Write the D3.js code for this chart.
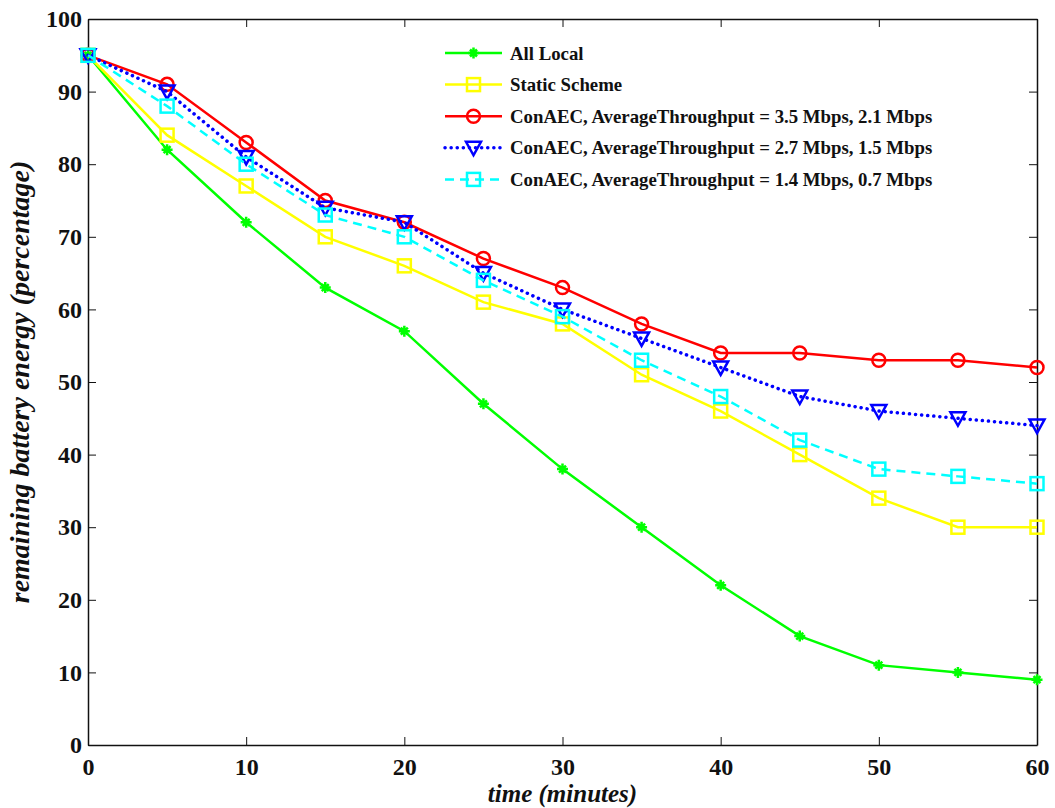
<!DOCTYPE html>
<html>
<head>
<meta charset="utf-8">
<script src="https://cdn.jsdelivr.net/npm/d3@7"></script>
<style>
  body { margin: 0; background: #fff; }
  text { font-family: "Liberation Serif", "DejaVu Serif", serif; font-weight: bold; fill: #111; }
</style>
</head>
<body>
<svg id="chart" width="1055" height="808"></svg>
<script>
const minutes = [0, 5, 10, 15, 20, 25, 30, 35, 40, 45, 50, 55, 60];
const allLocal = [95, 82, 72, 63, 57, 47, 38, 30, 22, 15, 11, 10, 9];
const staticScheme = [95, 84, 77, 70, 66, 61, 58, 51, 46, 40, 34, 30, 30];
const conAEC35 = [95, 91, 83, 75, 72, 67, 63, 58, 54, 54, 53, 53, 52];
const conAEC27 = [95, 90, 81, 74, 72, 65, 60, 56, 52, 48, 46, 45, 44];
const conAEC14 = [95, 88, 80, 73, 70, 64, 59, 53, 48, 42, 38, 37, 36];
const xTicks = [0, 10, 20, 30, 40, 50, 60];
const yTicks = [0, 10, 20, 30, 40, 50, 60, 70, 80, 90, 100];

const series = [
    { name: "All Local", values: allLocal, color: "#00ff00", marker: "star", dash: null },
    { name: "Static Scheme", values: staticScheme, color: "#ffff00", marker: "square", dash: null },
    { name: "ConAEC, AverageThroughput = 3.5 Mbps, 2.1 Mbps", values: conAEC35, color: "#ff0000", marker: "circle", dash: null },
    { name: "ConAEC, AverageThroughput = 2.7 Mbps, 1.5 Mbps", values: conAEC27, color: "#0000ff", marker: "triangle", dash: "0.1,6" },
    { name: "ConAEC, AverageThroughput = 1.4 Mbps, 0.7 Mbps", values: conAEC14, color: "#00ffff", marker: "square", dash: "9,6" }
];

const margin = { left: 88, right: 18, top: 19, bottom: 63 };
const width = 1055, height = 808;

const svg = d3.select("#chart");

const x = d3.scaleLinear().domain([0, 60]).range([margin.left, width - margin.right]);
const y = d3.scaleLinear().domain([0, 100]).range([height - margin.bottom, margin.top]);

// Axes with inward ticks
const tickLen = 8;
svg.append("g")
    .attr("transform", `translate(0,${y(0)})`)
    .call(d3.axisBottom(x).tickValues(xTicks).tickSizeInner(-tickLen).tickSizeOuter(0).tickPadding(8))
    .call(g => g.selectAll("text").attr("dy", "0.9em"));

svg.append("g")
    .attr("transform", `translate(${x(0)},0)`)
    .call(d3.axisLeft(y).tickValues(yTicks).tickSizeInner(-tickLen).tickSizeOuter(0).tickPadding(6));

svg.append("g")
    .attr("transform", `translate(0,${y(100)})`)
    .call(d3.axisTop(x).tickValues(xTicks).tickSizeInner(-tickLen).tickSizeOuter(0).tickFormat(""));

svg.append("g")
    .attr("transform", `translate(${x(60)},0)`)
    .call(d3.axisRight(y).tickValues(yTicks).tickSizeInner(-tickLen).tickSizeOuter(0).tickFormat(""));

svg.selectAll(".domain").attr("stroke", "#111").attr("stroke-width", 1.5);
svg.selectAll(".tick line").attr("stroke", "#111");
svg.selectAll(".tick text")
    .attr("fill", "#111")
    .attr("font-size", 24)
    .style("font-family", "'Liberation Serif', serif")
    .style("font-weight", "bold");

function drawMarker(g, type, color) {
    if (type === "star") {
        // thick asterisk: plus and diagonal cross
        g.append("path")
            .attr("d", "M-5.5,0 L5.5,0 M0,-5.5 L0,5.5 M-3.5,-3.5 L3.5,3.5 M-3.5,3.5 L3.5,-3.5")
            .attr("fill", "none").attr("stroke", color).attr("stroke-width", 2.5);
    } else if (type === "square") {
        g.append("rect")
            .attr("x", -6.5).attr("y", -6.5).attr("width", 13).attr("height", 13)
            .attr("fill", "none").attr("stroke", color).attr("stroke-width", 2.5);
    } else if (type === "circle") {
        g.append("circle").attr("r", 6.5)
            .attr("fill", "none").attr("stroke", color).attr("stroke-width", 2.5);
    } else if (type === "triangle") {
        g.append("path")
            .attr("d", "M-7.5,-6 L7.5,-6 L0,7.5 Z")
            .attr("fill", "none").attr("stroke", color).attr("stroke-width", 2.5);
    }
}

const line = d3.line().x((d, i) => x(minutes[i])).y(d => y(d));

function styleLine(sel, s) {
    const dotted = s.dash === "0.1,6";
    sel.attr("fill", "none")
        .attr("stroke", s.color)
        .attr("stroke-width", dotted ? 3.5 : 2.5)
        .attr("stroke-dasharray", s.dash)
        .attr("stroke-linecap", dotted ? "round" : "butt");
}

series.forEach(s => {
    svg.append("path")
        .datum(s.values)
        .attr("d", line)
        .call(styleLine, s);

    s.values.forEach((v, i) => {
        const g = svg.append("g").attr("transform", `translate(${x(minutes[i])},${y(v)})`);
        drawMarker(g, s.marker, s.color);
    });
});

// Legend
const legend = svg.append("g").attr("transform", "translate(445,53)");
series.forEach((s, i) => {
    const row = legend.append("g").attr("transform", `translate(0,${i * 31.6})`);
    row.append("line")
        .attr("x1", 0).attr("x2", 57).attr("y1", 0).attr("y2", 0)
        .call(styleLine, s);
    const m = row.append("g").attr("transform", "translate(28.5,0)");
    drawMarker(m, s.marker, s.color);
    row.append("text")
        .attr("x", 65).attr("y", 0).attr("dy", "0.35em")
        .attr("font-size", 18.8)
        .text(s.name);
});

// Axis titles
svg.append("text")
    .attr("x", (x(0) + x(60)) / 2).attr("y", 802)
    .attr("text-anchor", "middle")
    .attr("font-size", 25).attr("font-style", "italic")
    .text("time (minutes)");

svg.append("text")
    .attr("transform", `translate(29,${(y(0) + y(100)) / 2}) rotate(-90)`)
    .attr("text-anchor", "middle")
    .attr("font-size", 28).attr("font-style", "italic")
    .text("remaining battery energy (percentage)");
</script>
</body>
</html>
